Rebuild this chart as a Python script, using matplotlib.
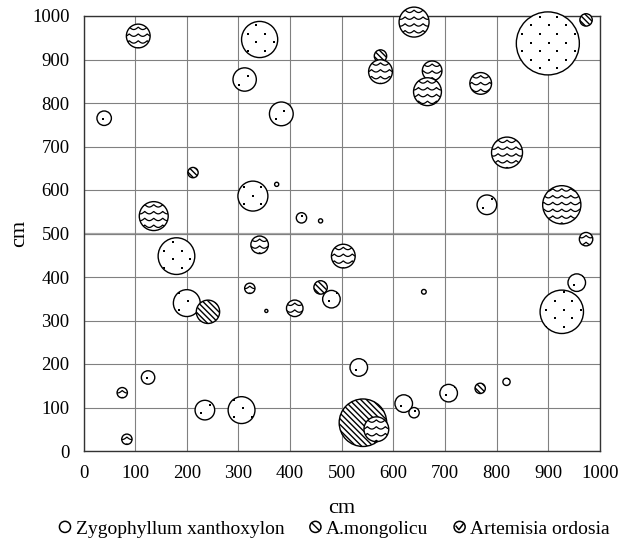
import numpy as np
import matplotlib
matplotlib.use("Agg")
import matplotlib.pyplot as plt
from matplotlib.patches import Ellipse, Circle, Patch
from matplotlib.lines import Line2D
from matplotlib.legend_handler import HandlerPatch

plt.rcParams['font.family'] = ['Liberation Serif', 'DejaVu Serif']

# crowns: centre x, centre y, radius (cm)
zygo_x = [341, 312, 40, 383, 328, 422, 180, 200, 125, 235, 306, 480, 955, 926,
          533, 620, 640, 707, 899, 781, 374, 354, 659, 459, 819]
zygo_y = [946, 854, 765, 775, 586, 536, 448, 340, 169, 94, 94, 349, 387, 320,
          192, 109, 88, 133, 937, 566, 613, 322, 366, 529, 159]
zygo_r = [35, 22.6, 14, 23, 29, 10, 35.5, 26, 13, 19, 26, 17, 17, 42,
          17, 17, 10, 17, 61, 19, 4, 3, 4.5, 4, 7]

mong_x = [241, 541, 575, 973, 212, 459, 768]
mong_y = [320, 65, 908, 991, 640, 376, 144]
mong_r = [22.6, 46, 12, 12, 10, 13, 10]

arte_x = [106, 136, 341, 409, 503, 973, 567, 640, 575, 675, 666, 769, 820, 926, 75, 84, 322]
arte_y = [954, 540, 474, 328, 448, 487, 50, 986, 872, 874, 826, 845, 686, 566, 134, 27, 374]
arte_r = [23, 28, 17, 16, 23, 13, 24, 29, 23, 19, 27, 21, 30, 37, 10, 10, 10]

ticks = list(range(0, 1001, 100))
legend_labels = ['Zygophyllum xanthoxylon', 'A.mongolicu', 'Artemisia ordosia']

W, H = 630, 543
ax_w, ax_h = 516.5, 435
fig = plt.figure(figsize=(W / 100, H / 100), dpi=100)
ax = fig.add_axes([83.5 / W, 92 / H, ax_w / W, ax_h / H])
ax.set_xlim(0, 1000)
ax.set_ylim(0, 1000)
sx = ax_w / 1000.0   # px per cm along x
sy = ax_h / 1000.0   # px per cm along y

ax.set_xticks(ticks)
ax.set_yticks(ticks)
ax.grid(True, color='#808080', lw=0.8)
ax.axhline(500, color='#a8a8a8', lw=1.6, zorder=0.5)
ax.set_axisbelow(True)
ax.tick_params(length=0, labelsize=13.5, pad=10)
for s in ax.spines.values():
    s.set_color('#333333')
    s.set_linewidth(1.0)
ax.set_xlabel('cm', fontsize=16, labelpad=12)
ax.set_ylabel('cm', fontsize=16, labelpad=2)

z = [3.0]


def crown(x, y, r):
    z[0] += 0.01
    e = Ellipse((x, y), 2 * r, 2 * r * sx / sy, facecolor='white',
                edgecolor='black', lw=1.0, clip_on=False, zorder=z[0])
    ax.add_patch(e)
    return e


def clipped(e, xs, ys, **kw):
    ln = Line2D(xs, ys, zorder=z[0] + 0.001, **kw)
    ln.set_clip_path(e)
    ax.add_line(ln)


def dots(e, x, y, r):
    rp = r * sx
    for k, off in enumerate(np.arange(-rp - 2, rp + 2, 8.6)):
        cols = np.arange(-rp - 20 + (k % 2) * 8.7, rp + 2, 17.4)
        clipped(e, x + cols / sx, np.full(len(cols), y + off / sy),
                ls='none', marker='s', ms=1.5, mew=0, color='black')


def diag(e, x, y, r):
    rp = r * sx
    t = np.array([-rp - 2, rp + 2])
    for c in np.arange(-2 * rp, 2 * rp, 5.7):
        clipped(e, x + (t + c / 2) / sx, y + (-t + c / 2) / sy, color='black', lw=1.0)


def waves(e, x, y, r):
    rp = r * sx
    t = np.linspace(-rp, rp, 80)
    for off in np.arange(-rp + 3, rp, 6.8):
        yy = off + 2.4 * np.abs(np.sin(np.pi * t / 9.0))
        clipped(e, x + t / sx, y - yy / sy, color='black', lw=0.9)


for x, y, r in zip(zygo_x, zygo_y, zygo_r):
    dots(crown(x, y, r), x, y, r)
for x, y, r in zip(mong_x, mong_y, mong_r):
    diag(crown(x, y, r), x, y, r)
for x, y, r in zip(arte_x, arte_y, arte_r):
    waves(crown(x, y, r), x, y, r)


class HandlerCircle(HandlerPatch):
    def create_artists(self, legend, orig_handle, xdescent, ydescent,
                       width, height, fontsize, trans):
        cx = width / 2 - xdescent
        cy = height / 2 - ydescent
        c = Circle((cx, cy), radius=4.0, facecolor='white', edgecolor='black',
                   lw=1.1, hatch=orig_handle.get_hatch(), transform=trans)
        arts = [c]
        if orig_handle.get_label() == 'arte':
            arts.append(Line2D([cx - 2.5, cx - 0.5, cx + 2.5], [cy + 0.5, cy - 2, cy + 2],
                               color='black', lw=1.1, transform=trans))
        return arts


handles = [Patch(hatch=None, label='zygo'), Patch(hatch='\\\\\\', label='mong'),
           Patch(label='arte')]
fig.legend(handles, legend_labels, loc='center', bbox_to_anchor=(0.531, 0.026),
           ncol=3, frameon=False, fontsize=14, handlelength=0.6,
           handletextpad=0.25, columnspacing=1.3,
           handler_map={Patch: HandlerCircle()})

fig.savefig('out.png', dpi=100)
